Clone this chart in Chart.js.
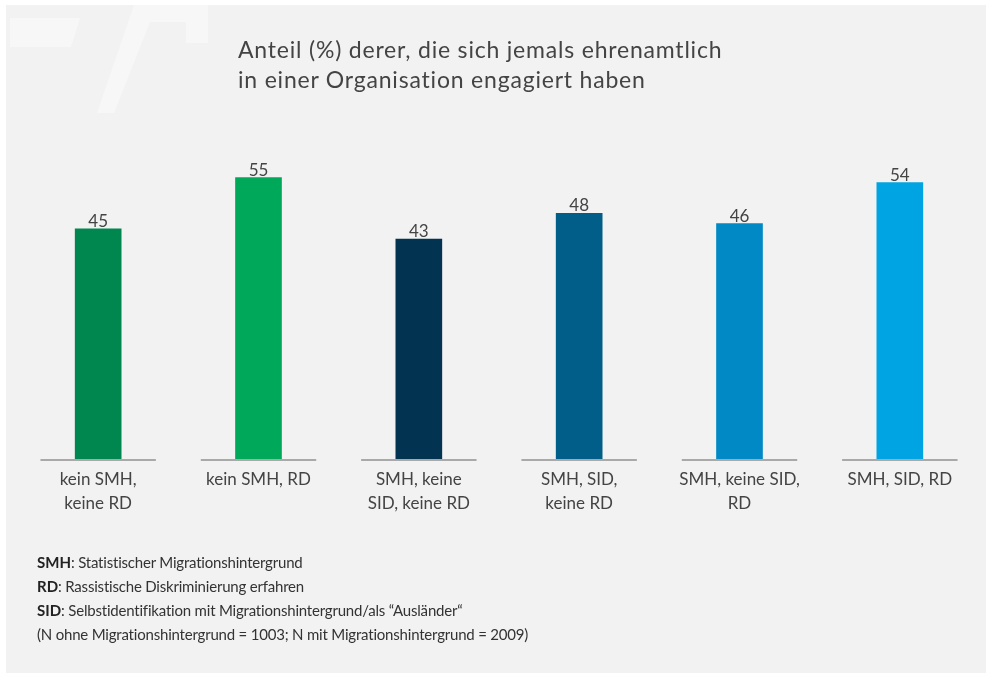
<!DOCTYPE html>
<html>
<head>
<meta charset="utf-8">
<script src="https://cdn.jsdelivr.net/npm/chart.js@4"></script>
<style>
  html, body { margin: 0; padding: 0; background: #ffffff; }
  #wrap { position: relative; width: 986px; height: 679px; overflow: hidden; }
  #panel { position: absolute; left: 6px; top: 5px; width: 980px; height: 668px; background: #f2f2f2; }
  .wm { position: absolute; left: 0; top: 0; width: 220px; height: 120px; background: #f7f7f7; }
  #wm1 { clip-path: polygon(10px 18px, 80px 18px, 71px 47px, 10px 47px); }
  #wm2 { clip-path: polygon(134px 5px, 208px 5px, 208px 43px, 186px 43px, 186px 22px, 150px 22px, 114px 113px, 97px 113px); }
  canvas { position: absolute; left: 0; top: 0; }
  #title { position: absolute; left: 238px; top: 34px; font-family: Lato, sans-serif; font-size: 23px; letter-spacing: 0.8px; line-height: 30px; color: #444; }
  #notes { position: absolute; left: 37px; top: 550px; font-family: Lato, sans-serif; font-size: 15px; letter-spacing: -0.2px; line-height: 24px; color: #333; }
  #notes b { color: #222; letter-spacing: 0; }
</style>
</head>
<body>
<div id="wrap">
  <div id="panel"></div>
  <div class="wm" id="wm1"></div>
  <div class="wm" id="wm2"></div>
  <canvas id="c" width="986" height="679"></canvas>
  <div id="title">Anteil (%) derer, die sich jemals ehrenamtlich<br>in einer Organisation engagiert haben</div>
  <div id="notes">
    <div><b>SMH</b>: Statistischer Migrationshintergrund</div>
    <div><b>RD</b>: Rassistische Diskriminierung erfahren</div>
    <div><b>SID</b>: Selbstidentifikation mit Migrationshintergrund/als “Ausländer“</div>
    <div>(N ohne Migrationshintergrund = 1003; N mit Migrationshintergrund = 2009)</div>
  </div>
</div>
<script>
const categories = [
  ["kein SMH,", "keine RD"],
  ["kein SMH, RD"],
  ["SMH, keine", "SID, keine RD"],
  ["SMH, SID,", "keine RD"],
  ["SMH, keine SID,", "RD"],
  ["SMH, SID, RD"]
];
const values = [45, 55, 43, 48, 46, 54];
const barColors = ["#00874f", "#00a85a", "#023350", "#005e89", "#0089c4", "#00a4e2"];

const baselinePlugin = {
  id: "baseline",
  beforeDatasetsDraw(chart) {
    const x = chart.scales.x, y = chart.scales.y, ctx = chart.ctx;
    const y0 = y.getPixelForValue(0);
    const half = (x.getPixelForValue(1) - x.getPixelForValue(0)) * 0.36;
    ctx.save();
    ctx.strokeStyle = "#a9a9a9";
    ctx.lineWidth = 2;
    categories.forEach((c, i) => {
      const cx = x.getPixelForValue(i);
      ctx.beginPath();
      ctx.moveTo(cx - half, y0 + 1);
      ctx.lineTo(cx + half, y0 + 1);
      ctx.stroke();
    });
    ctx.restore();
  }
};

const valueLabelPlugin = {
  id: "valueLabels",
  afterDatasetsDraw(chart) {
    const ctx = chart.ctx;
    const meta = chart.getDatasetMeta(0);
    ctx.save();
    ctx.font = "17px Lato, sans-serif";
    ctx.fillStyle = "#444";
    ctx.textAlign = "center";
    ctx.textBaseline = "bottom";
    meta.data.forEach((bar, i) => {
      ctx.fillText(String(values[i]), bar.x, bar.y + 1);
    });
    ctx.restore();
  }
};

new Chart(document.getElementById("c"), {
  type: "bar",
  data: {
    labels: categories,
    datasets: [{
      data: values,
      backgroundColor: barColors,
      borderWidth: 0,
      barThickness: 46
    }]
  },
  options: {
    responsive: false,
    animation: false,
    layout: { padding: { left: 18, right: 6, top: 152, bottom: 0 } },
    plugins: { legend: { display: false }, tooltip: { enabled: false }, title: { display: false } },
    scales: {
      x: {
        grid: { display: false, drawTicks: false },
        border: { display: false },
        ticks: { color: "#444", font: { family: "Lato", size: 17, lineHeight: 1.45 }, padding: 8, maxRotation: 0, autoSkip: false },
        afterFit(s) { s.height = 220; }
      },
      y: {
        display: false,
        min: 0,
        max: 60
      }
    }
  },
  plugins: [baselinePlugin, valueLabelPlugin]
});
</script>
</body>
</html>
